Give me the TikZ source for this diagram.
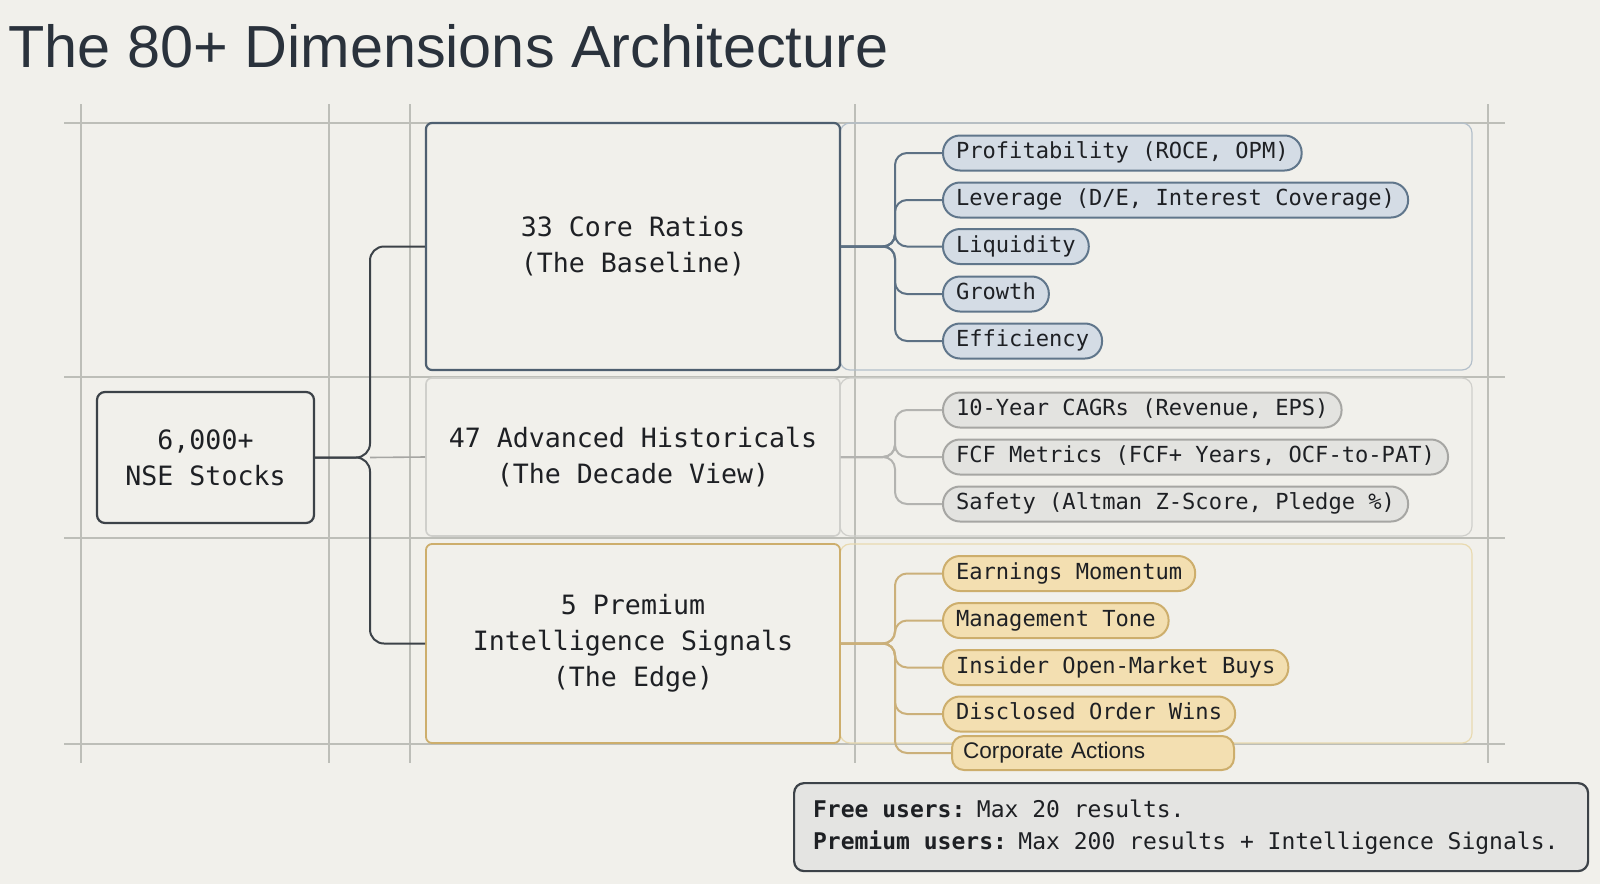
\documentclass[tikz,border=0pt]{standalone}
\usepackage{fontspec}
\setsansfont{Liberation Sans}
\setmonofont{DejaVu Sans Mono}
\usepackage{tikz}
\definecolor{paper}{HTML}{F1F0EB}
\definecolor{gridc}{HTML}{BDBEB8}
\definecolor{ink}{HTML}{1E2024}
\definecolor{titlec}{HTML}{2A323C}
\definecolor{slate}{HTML}{4E5F70}
\definecolor{hubc}{HTML}{3C4248}
\definecolor{blfill}{HTML}{D4DCE5}
\definecolor{bldraw}{HTML}{60768B}
\definecolor{bllink}{HTML}{5D7184}
\definecolor{blframe}{HTML}{B3BFCA}
\definecolor{grfill}{HTML}{E3E3E0}
\definecolor{grdraw}{HTML}{A6A6A3}
\definecolor{grlink}{HTML}{B3B3B0}
\definecolor{grframe}{HTML}{CFCFCB}
\definecolor{gdfill}{HTML}{F3DFB1}
\definecolor{gddraw}{HTML}{CDAE6C}
\definecolor{gdlink}{HTML}{CBB07A}
\definecolor{gdframe}{HTML}{E9DAB0}
\definecolor{notefill}{HTML}{E4E4E2}
\tikzstyle{gridline} = [draw=gridc, line width=0.7pt]
\tikzstyle{hub} = [draw=hubc, rounded corners=4pt, line width=1.1pt, minimum width=108.5pt, minimum height=65.5pt, align=center, font=\ttfamily\fontsize{13.3}{18}\selectfont, text=ink]
\tikzstyle{tier} = [rounded corners=3pt, minimum width=207pt, align=center, font=\ttfamily\fontsize{13.3}{18}\selectfont, text=ink]
\tikzstyle{leaf} = [anchor=west, rounded corners=8.5pt, line width=1pt, inner xsep=6.5pt, inner ysep=0pt, minimum height=17.5pt, text height=8pt, text depth=2.5pt, font=\ttfamily\fontsize{11.05}{13}\selectfont, text=ink]
\tikzstyle{bleaf} = [leaf, fill=blfill, draw=bldraw]
\tikzstyle{gleaf} = [leaf, fill=grfill, draw=grdraw]
\tikzstyle{yleaf} = [leaf, fill=gdfill, draw=gddraw]
\tikzstyle{trunk} = [draw=hubc, line width=1pt, rounded corners=7pt]
\tikzstyle{link} = [line width=1pt, rounded corners=6pt]

\begin{document}
\begin{tikzpicture}[x=0.5pt,y=-0.5pt]
  \fill[paper] (0,0) rectangle (1600,884);
  \useasboundingbox (0,0) rectangle (1600,884);
  \node[anchor=base west, inner sep=0pt, text=titlec, font=\sffamily\fontsize{29.7}{34}\selectfont] (ttl) at (8,67) {The 80+ Dimensions Architecture};

  % grid
  \foreach \y in {123,377,538,744} \draw[gridline] (64,\y) -- (1505,\y);
  \foreach \x in {81,329,410,855,1488} \draw[gridline] (\x,104) -- (\x,763);

  % group frames
  \draw[blframe, line width=0.6pt, rounded corners=5pt] (840,123) rectangle (1472,370);
  \draw[grframe, line width=0.6pt, rounded corners=5pt] (840,378) rectangle (1472,536);
  \draw[gdframe, line width=0.6pt, rounded corners=5pt] (840,544) rectangle (1472,743);

  % tiers
  \node[hub] (nse) at (205.5,457.5) {6,000+\\NSE Stocks};
  \node[tier, draw=slate, line width=1.1pt, minimum height=123.5pt] (core) at (633,246.5) {33 Core Ratios\\(The Baseline)};
  \node[tier, draw=grframe, line width=0.8pt, minimum height=79pt] (hist) at (633,457) {47 Advanced Historicals\\(The Decade View)};
  \node[tier, draw=gddraw, line width=0.9pt, minimum height=99.5pt] (prem) at (633,643.5) {5 Premium\\Intelligence Signals\\(The Edge)};

  % leaves
  \node[bleaf] (a1) at (942,153) {Profitability (ROCE, OPM)};
  \node[bleaf] (a2) at (942,200) {Leverage (D/E, Interest Coverage)};
  \node[bleaf] (a3) at (942,246.5) {Liquidity};
  \node[bleaf] (a4) at (942,294) {Growth};
  \node[bleaf] (a5) at (942,341) {Efficiency};
  \node[gleaf] (b1) at (942,410) {10-Year CAGRs (Revenue, EPS)};
  \node[gleaf] (b2) at (942,457) {FCF Metrics (FCF+ Years, OCF-to-PAT)};
  \node[gleaf] (b3) at (942,504) {Safety (Altman Z-Score, Pledge \%)};
  \node[yleaf] (c1) at (942,573.5) {Earnings Momentum};
  \node[yleaf] (c2) at (942,620.5) {Management Tone};
  \node[yleaf] (c3) at (942,667.5) {Insider Open-Market Buys};
  \node[yleaf] (c4) at (942,714) {Disclosed Order Wins};
  \node[yleaf, rounded corners=6pt, minimum height=17pt, inner xsep=5.5pt, text width=130pt, align=left, font=\sffamily\fontsize{11.3}{13}\selectfont] (c5) at (951,753) {Corporate Actions};

  % links
  \coordinate (split) at (370,457.5);
  \draw[trunk] (nse.east) -| (split |- core.west) -- (core.west);
  \draw[trunk] (nse.east) -| (split |- prem.west) -- (prem.west);
  \draw[grdraw, line width=0.8pt] (split) -- (hist.west);
  \coordinate (jA) at (895,246.5);
  \coordinate (jB) at (895,457);
  \coordinate (jC) at (895,643.5);
  \foreach \n in {a1,a2,a3,a4,a5} \draw[link, bllink] (core.east) -| (jA |- \n.west) -- (\n.west);
  \foreach \n in {b1,b2,b3} \draw[link, grlink] (hist.east) -| (jB |- \n.west) -- (\n.west);
  \foreach \n in {c1,c2,c3,c4,c5} \draw[link, gdlink] (prem.east) -| (jC |- \n.west) -- (\n.west);

  % note
  \node[anchor=north west, draw=hubc, fill=notefill, line width=1.1pt, rounded corners=5pt, minimum width=397pt, minimum height=44pt, inner xsep=9.5pt, text width=378pt, align=left, text=ink, font=\ttfamily\fontsize{11.5}{16}\selectfont] (note) at (793,782) {\spaceskip=6.923pt\relax\textbf{Free users:} Max 20 results.\\\textbf{Premium users:} Max 200 results + Intelligence Signals.};
\end{tikzpicture}
\end{document}
